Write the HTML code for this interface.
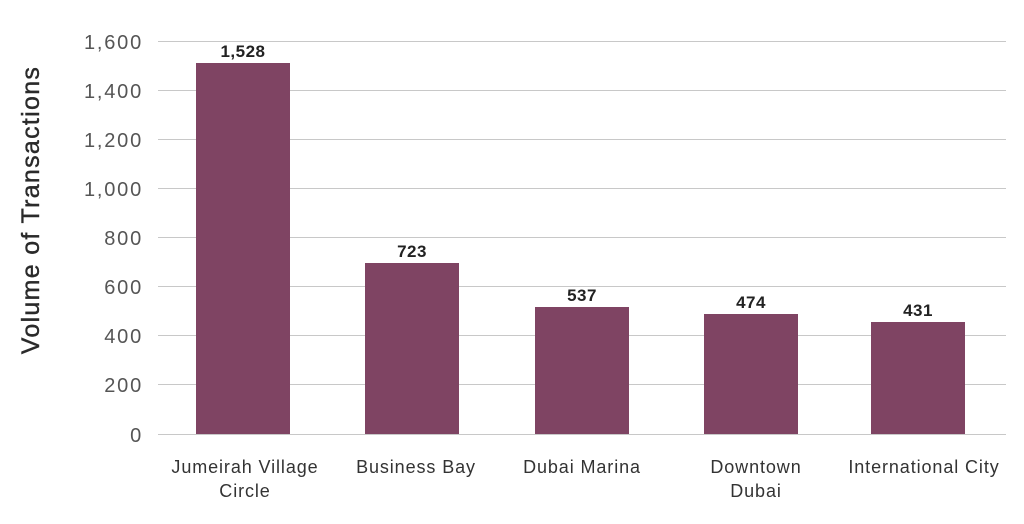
<!DOCTYPE html>
<html><head><meta charset="utf-8"><style>
body{margin:0;background:#fff;}
svg{display:block;font-family:"Liberation Sans",sans-serif;}
</style></head><body>
<svg width="1024" height="524" viewBox="0 0 1024 524">
<g stroke="#c8c8c8" stroke-width="1">
<line x1="158" x2="1006" y1="41.5" y2="41.5"/>
<line x1="158" x2="1006" y1="90.5" y2="90.5"/>
<line x1="158" x2="1006" y1="139.5" y2="139.5"/>
<line x1="158" x2="1006" y1="188.5" y2="188.5"/>
<line x1="158" x2="1006" y1="237.5" y2="237.5"/>
<line x1="158" x2="1006" y1="286.5" y2="286.5"/>
<line x1="158" x2="1006" y1="335.5" y2="335.5"/>
<line x1="158" x2="1006" y1="384.5" y2="384.5"/>
<line x1="158" x2="1006" y1="434.5" y2="434.5"/>
</g>
<g fill="#555" font-size="20" letter-spacing="1.8" text-anchor="end">
<text x="143" y="49">1,600</text>
<text x="143" y="98">1,400</text>
<text x="143" y="147">1,200</text>
<text x="143" y="196">1,000</text>
<text x="143" y="245">800</text>
<text x="143" y="294">600</text>
<text x="143" y="343">400</text>
<text x="143" y="392">200</text>
<text x="143" y="442">0</text>
</g>
<text transform="translate(39,210) rotate(-90)" text-anchor="middle" font-size="25" letter-spacing="1.3" fill="#2a2a2a" stroke="#2a2a2a" stroke-width="0.4">Volume of Transactions</text>
<g fill="#7f4463">
<rect x="196" y="63" width="94" height="371"/>
<rect x="365" y="263" width="94" height="171"/>
<rect x="535" y="307" width="94" height="127"/>
<rect x="704" y="314" width="94" height="120"/>
<rect x="871" y="322" width="94" height="112"/>
</g>
<g font-size="17" font-weight="bold" fill="#222" text-anchor="middle" letter-spacing="0.5">
<text x="243" y="57">1,528</text>
<text x="412" y="257">723</text>
<text x="582" y="301">537</text>
<text x="751" y="308">474</text>
<text x="918" y="316">431</text>
</g>
<g font-size="18" fill="#333" text-anchor="middle" letter-spacing="0.9">
<text x="245" y="473">Jumeirah Village</text>
<text x="245" y="497">Circle</text>
<text x="416" y="473">Business Bay</text>
<text x="582" y="473">Dubai Marina</text>
<text x="756" y="473">Downtown</text>
<text x="756" y="497">Dubai</text>
<text x="924" y="473">International City</text>
</g>
</svg>
</body></html>
